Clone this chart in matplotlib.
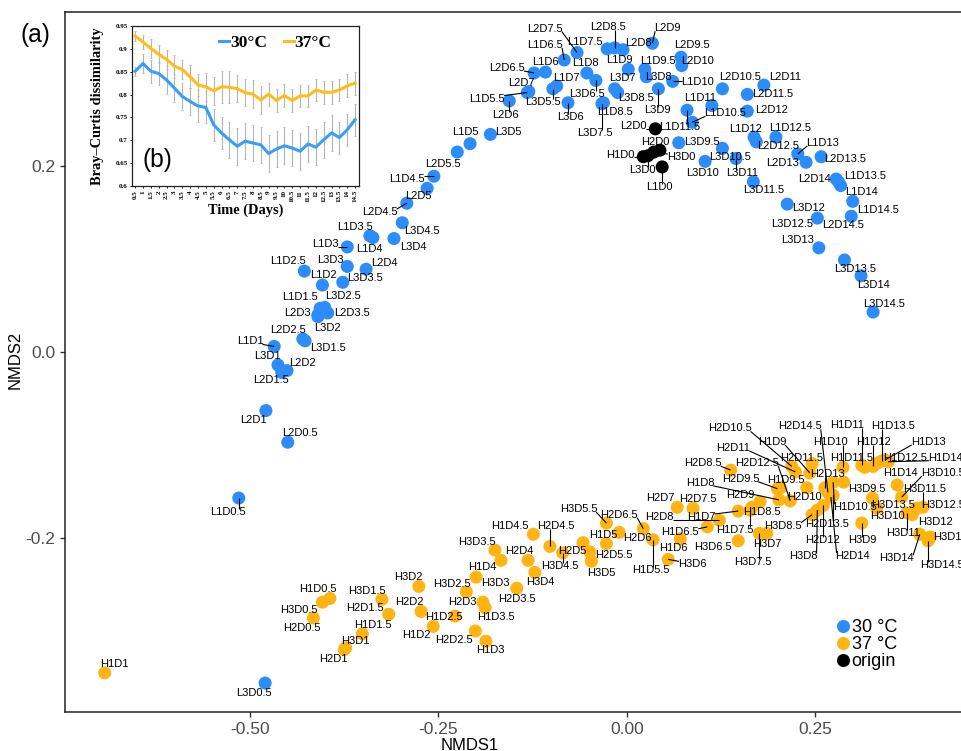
import matplotlib
matplotlib.use("Agg")
import matplotlib.pyplot as plt
from matplotlib.lines import Line2D
import numpy as np

plt.rcParams['font.family'] = ['Liberation Sans', 'DejaVu Sans']
plt.rcParams['axes.unicode_minus'] = False

# ---------------- data ----------------
DAYS = ["0.5", "1", "1.5", "2", "2.5", "3", "3.5", "4", "4.5", "5", "5.5", "6", "6.5", "7", "7.5",
        "8", "8.5", "9", "9.5", "10", "10.5", "11", "11.5", "12", "12.5", "13", "13.5", "14", "14.5"]

L1_x = [-0.515, -0.468, -0.407, -0.404, -0.428, -0.371, -0.341, -0.337, -0.256, -0.208, -0.132, -0.108, -0.083, -0.093, -0.026,
        -0.053, -0.031, 0.002, 0.024, 0.061, 0.087, 0.113, 0.080, 0.169, 0.198, 0.227, 0.281, 0.284, 0.300]
L1_y = [-0.157, 0.006, 0.047, 0.072, 0.087, 0.113, 0.125, 0.123, 0.189, 0.224, 0.279, 0.301, 0.314, 0.286, 0.326,
        0.300, 0.268, 0.304, 0.304, 0.291, 0.247, 0.265, 0.260, 0.231, 0.231, 0.213, 0.183, 0.179, 0.162]
L2_x = [-0.450, -0.479, -0.458, -0.451, -0.430, -0.410, -0.397, -0.346, -0.292, -0.265, -0.225, -0.156, -0.123, -0.130, -0.066,
        -0.005, -0.016, 0.034, 0.072, 0.073, 0.127, 0.182, 0.160, 0.160, 0.172, 0.238, 0.258, 0.278, 0.298]
L2_y = [-0.097, -0.063, -0.022, -0.020, 0.014, 0.040, 0.042, 0.089, 0.160, 0.176, 0.215, 0.270, 0.300, 0.280, 0.322,
        0.325, 0.327, 0.332, 0.317, 0.308, 0.283, 0.287, 0.277, 0.259, 0.226, 0.204, 0.210, 0.186, 0.146]
L3_x = [-0.480, -0.463, -0.427, -0.410, -0.401, -0.371, -0.377, -0.309, -0.298, -0.181, -0.098, -0.078, -0.041, -0.016, -0.033,
        0.026, -0.012, 0.042, 0.069, 0.104, 0.127, 0.145, 0.168, 0.213, 0.253, 0.255, 0.289, 0.311, 0.327]
L3_y = [-0.356, -0.014, 0.012, 0.038, 0.048, 0.092, 0.075, 0.122, 0.139, 0.234, 0.283, 0.268, 0.292, 0.283, 0.267,
        0.296, 0.279, 0.283, 0.225, 0.205, 0.219, 0.208, 0.183, 0.159, 0.144, 0.112, 0.099, 0.082, 0.043]
H1_x = [-0.394, -0.693, -0.351, -0.257, -0.228, -0.187, -0.188, -0.167, -0.124, -0.058, 0.035, 0.071, 0.107, 0.148, 0.164,
        0.202, 0.166, 0.243, 0.204, 0.287, 0.274, 0.312, 0.316, 0.327, 0.334, 0.343, 0.339, 0.359, 0.347]
H1_y = [-0.265, -0.345, -0.303, -0.295, -0.284, -0.311, -0.275, -0.224, -0.196, -0.205, -0.202, -0.201, -0.188, -0.171, -0.170,
        -0.159, -0.167, -0.130, -0.146, -0.124, -0.140, -0.122, -0.124, -0.123, -0.119, -0.116, -0.117, -0.143, -0.118]
H2_x = [-0.416, -0.375, -0.316, -0.273, -0.201, -0.191, -0.146, -0.131, -0.102, -0.049, -0.027, -0.010, 0.022, 0.067, 0.088,
        0.123, 0.138, 0.177, 0.200, 0.239, 0.219, 0.224, 0.246, 0.261, 0.217, 0.263, 0.274, 0.271, 0.267]
H2_y = [-0.286, -0.320, -0.282, -0.279, -0.300, -0.269, -0.254, -0.224, -0.209, -0.215, -0.206, -0.194, -0.190, -0.167, -0.168,
        -0.181, -0.127, -0.161, -0.147, -0.146, -0.123, -0.129, -0.120, -0.165, -0.160, -0.146, -0.154, -0.156, -0.151]
H3_x = [-0.404, -0.373, -0.325, -0.276, -0.213, -0.200, -0.175, -0.122, -0.085, -0.047, -0.027, 0.055, 0.148, 0.186, 0.176,
        0.253, 0.246, 0.312, 0.288, 0.332, 0.365, 0.372, 0.393, 0.379, 0.385, 0.403, 0.326, 0.389, 0.400]
H3_y = [-0.269, -0.318, -0.266, -0.252, -0.258, -0.242, -0.213, -0.237, -0.216, -0.225, -0.184, -0.223, -0.203, -0.195, -0.195,
        -0.170, -0.175, -0.184, -0.140, -0.168, -0.156, -0.173, -0.167, -0.175, -0.168, -0.199, -0.157, -0.196, -0.203]

ORIGIN_names = ["L1D0", "L2D0", "L3D0", "H1D0", "H2D0", "H3D0"]
ORIGIN_x = [0.047, 0.038, 0.028, 0.022, 0.044, 0.036]
ORIGIN_y = [0.199, 0.240, 0.211, 0.210, 0.217, 0.215]

# inset (b): Bray-Curtis dissimilarity over time
BC_30 = [0.851, 0.868, 0.851, 0.846, 0.832, 0.814, 0.796, 0.785, 0.775, 0.772, 0.734, 0.716, 0.701, 0.687, 0.698,
         0.694, 0.690, 0.671, 0.681, 0.688, 0.683, 0.676, 0.692, 0.685, 0.701, 0.716, 0.706, 0.723, 0.745]
BC_37 = [0.928, 0.915, 0.901, 0.888, 0.877, 0.862, 0.855, 0.839, 0.821, 0.817, 0.808, 0.817, 0.816, 0.813, 0.804,
         0.801, 0.788, 0.801, 0.787, 0.798, 0.787, 0.797, 0.797, 0.810, 0.805, 0.805, 0.810, 0.819, 0.825]
ERR_30 = [0.010, 0.020, 0.025, 0.025, 0.030, 0.030, 0.030, 0.030, 0.035, 0.035, 0.035, 0.035, 0.040, 0.040, 0.040,
          0.040, 0.040, 0.040, 0.040, 0.040, 0.040, 0.040, 0.040, 0.040, 0.040, 0.040, 0.035, 0.035, 0.035]
ERR_37 = [0.010, 0.015, 0.020, 0.020, 0.020, 0.025, 0.020, 0.025, 0.025, 0.030, 0.030, 0.035, 0.035, 0.030, 0.030,
          0.030, 0.030, 0.025, 0.025, 0.025, 0.025, 0.025, 0.025, 0.025, 0.025, 0.025, 0.025, 0.025, 0.025]

LEGEND_labels = ["30 °C", "37 °C", "origin"]
INSET_legend = ["30°C", "37°C"]

# label offsets in pixels (dx right, dy down) relative to each point
LABEL_OFF = {
    "L1D0.5": (-11, 14), "L1D1": (-24, -5), "L1D1.5": (-20, -11), "L1D2": (1, -10), "L1D2.5": (-16, -10),
    "L1D3": (-22, -3), "L1D3.5": (-15, -9), "L1D4": (-4, 11), "L1D4.5": (-27, 3), "L1D5": (-5, -12),
    "L1D5.5": (-40, 6), "L1D6": (0, -10), "L1D6.5": (-19, -15), "L1D7": (10, -8), "L1D7.5": (-22, -7),
    "L1D8": (-1, -10), "L1D8.5": (12, 9), "L1D9": (-9, -9), "L1D9.5": (13, -8), "L1D10": (25, 1),
    "L1D10.5": (33, -9), "L1D11": (-12, -8), "L1D11.5": (-7, 17), "L1D12": (-9, -8), "L1D12.5": (14, -9),
    "L1D13": (25, -11), "L1D13.5": (27, -6), "L1D14": (21, 6), "L1D14.5": (25, 9),
    "L2D0.5": (12, -9), "L2D1": (-12, 9), "L2D1.5": (-11, 8), "L2D2": (15, -8), "L2D2.5": (-15, -9),
    "L2D3": (-20, -2), "L2D3.5": (24, 0), "L2D4": (18, -6), "L2D4.5": (-27, 9), "L2D5": (-9, 8),
    "L2D5.5": (-14, 12), "L2D6": (-4, 14), "L2D6.5": (-27, -5), "L2D7": (-7, -9), "L2D7.5": (-32, -24),
    "L2D8": (15, -7), "L2D8.5": (-7, -21), "L2D9": (15, -15), "L2D9.5": (11, -12), "L2D10": (16, -5),
    "L2D10.5": (18, -12), "L2D11": (21, -8), "L2D11.5": (25, 0), "L2D12": (24, -1), "L2D12.5": (22, 4),
    "L2D13": (-23, 1), "L2D13.5": (24, 2), "L2D14": (-22, 0), "L2D14.5": (-8, 9),
    "L3D0.5": (-11, 10), "L3D1": (-11, -9), "L3D1.5": (23, 7), "L3D2": (10, 11), "L3D2.5": (18, -11),
    "L3D3": (-17, -6), "L3D3.5": (22, -4), "L3D4": (19, 8), "L3D4.5": (20, 8), "L3D5": (18, -2),
    "L3D5.5": (-10, 13), "L3D6": (2, 14), "L3D6.5": (-9, 14), "L3D7": (8, -11), "L3D7.5": (-7, 29),
    "L3D8": (12, 0), "L3D8.5": (18, 5), "L3D9": (-1, 21), "L3D9.5": (23, -1), "L3D10": (-3, 12),
    "L3D10.5": (8, 9), "L3D11": (6, 14), "L3D11.5": (10, 8), "L3D12": (21, 4), "L3D12.5": (-25, 6),
    "L3D13": (-21, -8), "L3D13.5": (11, 9), "L3D14": (12, 9), "L3D14.5": (11, -8),
    "L1D0": (-3, 20), "L2D0": (-22, -3), "L3D0": (-5, 14), "H1D0": (-23, -2), "H2D0": (-5, -8), "H3D0": (27, 5),
    "H1D0.5": (-12, -9), "H1D1": (10, -9), "H1D1.5": (11, -9), "H1D2": (-17, 9), "H1D2.5": (-11, 1),
    "H1D3": (4, 9), "H1D3.5": (11, 9), "H1D4": (-19, 7), "H1D4.5": (-23, -8), "H1D5": (20, -8),
    "H1D5.5": (-2, 30), "H1D6": (-7, 9), "H1D6.5": (-27, 5), "H1D7": (-37, 6), "H1D7.5": (-15, 20),
    "H1D8": (-79, -17), "H1D8.5": (10, 5), "H1D9": (-38, -31), "H1D9.5": (5, -8), "H1D10": (-13, -25),
    "H1D10.5": (22, 25), "H1D11": (-15, -40), "H1D11.5": (-13, -9), "H1D12": (0, -24), "H1D12.5": (27, -5),
    "H1D13": (43, -18), "H1D13.5": (11, -35), "H1D14": (3, -12), "H1D14.5": (62, -4),
    "H2D0.5": (-11, 10), "H2D1": (-11, 9), "H2D1.5": (-24, -6), "H2D2": (-12, -9), "H2D2.5": (-21, 9),
    "H2D3": (-20, 0), "H2D3.5": (0, 11), "H2D4": (-9, -9), "H2D4.5": (6, -20), "H2D5": (-18, -1),
    "H2D5.5": (7, 11), "H2D6": (18, 6), "H2D6.5": (-24, -14), "H2D7": (-17, -9), "H2D7.5": (5, -9),
    "H2D8": (-60, -3), "H2D8.5": (-28, -7), "H2D9": (-20, -7), "H2D9.5": (-37, -10), "H2D10": (-2, 9),
    "H2D10.5": (-62, -38), "H2D11": (-62, -24), "H2D11.5": (-10, -6), "H2D12": (-1, 35), "H2D12.5": (-33, -38),
    "H2D13": (3, -14), "H2D13.5": (-6, 29), "H2D14": (22, 59), "H2D14.5": (-28, -66),
    "H3D0.5": (-24, 8), "H3D1": (10, -7), "H3D1.5": (-15, -8), "H3D2": (-10, -9), "H3D2.5": (-14, -8),
    "H3D3": (19, 6), "H3D3.5": (-18, -8), "H3D4": (5, 10), "H3D4.5": (-3, 13), "H3D5": (10, 12),
    "H3D5.5": (-28, -14), "H3D6": (24, 5), "H3D6.5": (-25, 6), "H3D7": (0, 11), "H3D7.5": (-6, 29),
    "H3D8": (-14, 46), "H3D8.5": (-29, 11), "H3D9": (1, 17), "H3D9.5": (23, 7), "H3D10": (11, 8),
    "H3D10.5": (41, -24), "H3D11": (-4, 20), "H3D11.5": (2, -18), "H3D12": (23, 7), "H3D12.5": (26, -3),
    "H3D13": (20, 0), "H3D13.5": (21, 7), "H3D14": (-23, 24), "H3D14.5": (14, 24),
}

C30 = "#2B8CFA"
C37 = "#FFB413"
CORI = "#000000"

W, H = 962, 751
fig = plt.figure(figsize=(W / 100, H / 100), dpi=100)
ax = fig.add_axes([65 / W, (H - 712) / H, 900 / W, 700 / H])

groups = [("L1", L1_x, L1_y, C30), ("L2", L2_x, L2_y, C30), ("L3", L3_x, L3_y, C30),
          ("H1", H1_x, H1_y, C37), ("H2", H2_x, H2_y, C37), ("H3", H3_x, H3_y, C37)]

PT_S = 88
allpts = []
for g, xs, ys, col in groups:
    ax.scatter(xs, ys, s=PT_S, color=col, edgecolors='none', zorder=2)
    for d, x, y in zip(DAYS, xs, ys):
        allpts.append((f"{g}D{d}", x, y))
ax.scatter(ORIGIN_x, ORIGIN_y, s=PT_S, color=CORI, edgecolors='none', zorder=2)
for n, x, y in zip(ORIGIN_names, ORIGIN_x, ORIGIN_y):
    allpts.append((n, x, y))

XLIM = (-0.7457, 0.449)
YLIM = (-0.3871, 0.3656)
ax.set_xlim(*XLIM)
ax.set_ylim(*YLIM)

texts = []
for n, x, y in allpts:
    dx, dy = LABEL_OFF.get(n, (0, -13))
    t = ax.annotate(n, (x, y), xytext=(dx, -dy), textcoords='offset pixels',
                    ha='center', va='center', fontsize=8, color='black', zorder=5,
                    annotation_clip=False)
    texts.append((t, x, y))

fig.canvas.draw()
rend = fig.canvas.get_renderer()
inv = ax.transData.inverted()
for t, x, y in texts:
    bb = t.get_window_extent(rend)
    px, py = ax.transData.transform((x, y))
    x0, x1 = bb.x0 + 1, bb.x1 - 1
    y0, y1 = bb.y0 + 2, bb.y1 - 2
    nx = min(max(px, x0), x1)
    ny = min(max(py, y0), y1)
    d = np.hypot(nx - px, ny - py)
    if d > 9:
        (ax0, ay0) = inv.transform((px, py))
        (ax1, ay1) = inv.transform((nx, ny))
        ax.plot([ax0, ax1], [ay0, ay1], color='black', lw=0.8, zorder=3, solid_capstyle='butt')

ax.set_xlim(*XLIM)
ax.set_ylim(*YLIM)

ax.set_xticks([-0.5, -0.25, 0.0, 0.25])
ax.set_xticklabels(["-0.50", "-0.25", "0.00", "0.25"])
ax.set_yticks([-0.2, 0.0, 0.2])
ax.set_yticklabels(["-0.2", "0.0", "0.2"])
ax.tick_params(axis='both', labelsize=12.5, labelcolor='#4D4D4D', color='#333333', length=3.5, width=1)
for s in ax.spines.values():
    s.set_linewidth(1.1)
    s.set_color('#222222')

ax.set_xlabel("NMDS1", fontsize=12)
ax.set_ylabel("NMDS2", fontsize=12)
ax.xaxis.set_label_coords((470 - 65) / 900, (712 - 745) / 700)
ax.xaxis.label.set_va('center')
ax.yaxis.set_label_coords((15 - 65) / 900, (712 - 360) / 700)
ax.yaxis.label.set_va('center')

handles = [Line2D([0], [0], marker='o', linestyle='none', markersize=9.4, markerfacecolor=c,
                  markeredgecolor='none') for c in (C30, C37, CORI)]
ax.legend(handles, LEGEND_labels, loc='upper left', bbox_to_anchor=((838 - 65) / 900, (712 - 619) / 700),
          frameon=False, fontsize=13, handlelength=0.6, handletextpad=0.15, labelspacing=0.0,
          borderpad=0, borderaxespad=0)

fig.text(35 / W, 1 - 35 / H, "(a)", fontsize=17.7, ha='center', va='center')

# ---------------- inset (b) ----------------
axin = fig.add_axes([132 / W, (H - 186) / H, 227 / W, 160 / H])
axin.set_facecolor('white')
axin.set_zorder(10)
idx = np.arange(len(DAYS))
IC30 = "#3A9EF5"
IC37 = "#FFBE17"
axin.errorbar(idx, BC_30, yerr=ERR_30, fmt='none', ecolor='#b5b5b5', elinewidth=0.8, capsize=1.0, capthick=0.6)
axin.errorbar(idx, BC_37, yerr=ERR_37, fmt='none', ecolor='#b5b5b5', elinewidth=0.8, capsize=1.0, capthick=0.6)
axin.plot(idx, BC_30, color=IC30, lw=2.2, label=INSET_legend[0])
axin.plot(idx, BC_37, color=IC37, lw=2.2, label=INSET_legend[1])
axin.set_xlim(-0.4, 28.5)
axin.set_ylim(0.6, 0.95)
yt = [0.6, 0.65, 0.7, 0.75, 0.8, 0.85, 0.9, 0.95]
axin.set_yticks(yt)
axin.set_yticklabels(["0.6", "0.65", "0.7", "0.75", "0.8", "0.85", "0.9", "0.95"])
axin.set_xticks(idx)
axin.set_xticklabels(DAYS, rotation=90)
serif = ['Liberation Serif', 'DejaVu Serif']
for lab in axin.get_xticklabels() + axin.get_yticklabels():
    lab.set_fontfamily(serif)
    lab.set_fontweight('bold')
    lab.set_fontsize(5)
axin.tick_params(axis='both', length=1.5, width=0.6, pad=1.5)
for s in axin.spines.values():
    s.set_linewidth(0.9)
    s.set_color('#222222')
axin.set_ylabel("Bray\u2013Curtis dissimilarity", fontfamily=serif, fontweight='bold', fontsize=10.4)
axin.yaxis.set_label_coords((97 - 132) / 227, 0.5)
axin.yaxis.label.set_va('center')
axin.set_xlabel("Time (Days)", fontfamily=serif, fontweight='bold', fontsize=10.4)
axin.xaxis.set_label_coords(0.5, (186 - 210) / 160)
axin.xaxis.label.set_va('center')
axin.legend(loc='center', bbox_to_anchor=(((221 + 330) / 2 - 132) / 227, (186 - 43) / 160), ncol=2,
            frameon=False, prop={'family': serif, 'weight': 'bold', 'size': 12.5},
            handlelength=0.55, handletextpad=0.05, columnspacing=1.0, borderpad=0, borderaxespad=0)
axin.text((157 - 132) / 227, (186 - 160) / 160, "(b)", transform=axin.transAxes, fontsize=17.7,
          ha='center', va='center')

fig.savefig("out.png", dpi=100)
